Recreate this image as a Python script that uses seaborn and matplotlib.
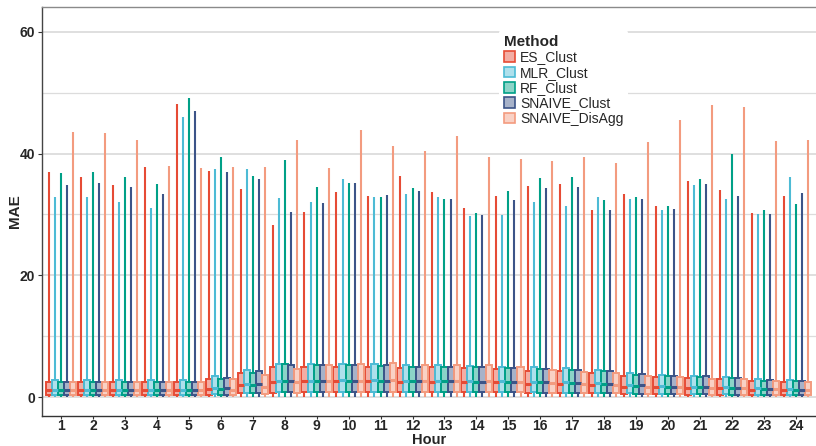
import numpy as np
import pandas as pd
import seaborn as sns
import matplotlib
matplotlib.use("Agg")
import matplotlib.pyplot as plt
from matplotlib.patches import Patch
from matplotlib.colors import to_rgba

hours = [str(h) for h in range(1, 25)]
methods = ["ES_Clust", "MLR_Clust", "RF_Clust", "SNAIVE_Clust", "SNAIVE_DisAgg"]
colors = ["#E64B35", "#4DBBD5", "#00A087", "#3C5488", "#F39B7F"]

# upper whisker (max) per hour
es_max = [36.9, 36.1, 34.8, 37.8, 48.1, 37.1, 34.2, 28.3, 30.4, 33.7, 33.1, 36.3,
          33.7, 31.1, 33.1, 34.7, 35.0, 30.8, 33.4, 31.4, 35.5, 34.0, 30.3, 33.0]
mlr_max = [32.8, 32.8, 32.0, 31.0, 46.0, 37.5, 37.4, 32.7, 32.0, 35.9, 32.8, 33.3,
           32.8, 29.7, 29.9, 32.0, 31.4, 32.9, 32.6, 30.8, 34.9, 32.5, 30.0, 36.1]
rf_max = [36.8, 36.9, 36.2, 35.0, 49.1, 39.5, 36.3, 39.0, 34.5, 35.1, 32.9, 34.3,
          32.5, 30.2, 33.9, 36.0, 36.1, 32.4, 32.8, 31.4, 35.8, 40.0, 30.7, 31.8]
sn_max = [34.9, 35.1, 34.5, 33.4, 47.0, 37.0, 35.8, 30.4, 31.9, 35.1, 33.2, 33.8,
          32.6, 29.9, 32.3, 34.3, 34.5, 30.7, 32.5, 30.9, 35.0, 33.1, 30.1, 33.5]
da_max = [43.5, 43.4, 42.3, 38.0, 37.7, 37.8, 37.8, 42.3, 37.7, 43.9, 41.3, 40.4,
          42.9, 39.5, 39.1, 38.8, 39.4, 38.5, 41.9, 45.6, 48.0, 47.7, 42.1, 42.2]

# third quartile
es_q3 = [2.4, 2.4, 2.4, 2.4, 2.4, 3.0, 4.0, 4.9, 5.0, 4.9, 5.0, 4.8,
         4.9, 4.7, 4.6, 4.3, 4.2, 3.9, 3.5, 3.3, 3.1, 2.9, 2.6, 2.5]
mlr_q3 = [2.8, 2.8, 2.8, 2.8, 2.8, 3.5, 4.4, 5.4, 5.4, 5.5, 5.5, 5.2,
          5.2, 5.1, 5.0, 4.9, 4.7, 4.5, 4.0, 3.6, 3.5, 3.3, 3.0, 2.8]
rf_q3 = [2.5, 2.5, 2.5, 2.5, 2.5, 3.0, 4.0, 5.4, 5.3, 5.2, 5.1, 5.0,
         5.0, 4.9, 4.8, 4.6, 4.4, 4.2, 3.7, 3.4, 3.3, 3.1, 2.7, 2.6]
sn_q3 = [2.5, 2.5, 2.5, 2.5, 2.5, 3.2, 4.2, 5.2, 5.2, 5.2, 5.2, 5.0,
         5.0, 4.9, 4.8, 4.6, 4.5, 4.2, 3.8, 3.5, 3.4, 3.2, 2.8, 2.7]
da_q3 = [2.5, 2.5, 2.5, 2.5, 2.5, 2.9, 3.6, 4.6, 5.3, 5.4, 5.6, 5.3,
         5.2, 5.2, 5.0, 4.5, 4.1, 3.9, 3.5, 3.3, 3.0, 2.9, 2.7, 2.5]

# median
es_med = [1.1, 1.1, 1.1, 1.1, 1.1, 1.3, 2.0, 2.5, 2.6, 2.6, 2.6, 2.5,
          2.5, 2.4, 2.4, 2.2, 2.1, 1.9, 1.7, 1.6, 1.5, 1.4, 1.2, 1.2]
mlr_med = [1.2, 1.2, 1.2, 1.2, 1.2, 1.5, 2.1, 2.7, 2.7, 2.8, 2.8, 2.7,
           2.7, 2.6, 2.6, 2.5, 2.4, 2.3, 2.0, 1.8, 1.7, 1.6, 1.4, 1.3]
rf_med = [1.1, 1.1, 1.1, 1.1, 1.1, 1.3, 2.0, 2.7, 2.7, 2.7, 2.6, 2.6,
          2.6, 2.5, 2.5, 2.4, 2.3, 2.1, 1.8, 1.7, 1.6, 1.5, 1.3, 1.2]
sn_med = [1.1, 1.1, 1.1, 1.1, 1.1, 1.4, 2.1, 2.7, 2.7, 2.7, 2.7, 2.6,
          2.6, 2.5, 2.5, 2.4, 2.3, 2.1, 1.9, 1.7, 1.6, 1.5, 1.3, 1.2]
da_med = [1.1, 1.1, 1.1, 1.1, 1.1, 1.2, 1.7, 2.4, 2.7, 2.7, 2.8, 2.7,
          2.6, 2.6, 2.5, 2.3, 2.1, 1.9, 1.7, 1.6, 1.5, 1.4, 1.3, 1.1]

# first quartile
es_q1 = [0.3, 0.3, 0.3, 0.3, 0.3, 0.4, 0.6, 0.7, 0.8, 0.8, 0.8, 0.8,
         0.8, 0.8, 0.8, 0.7, 0.7, 0.6, 0.5, 0.5, 0.4, 0.4, 0.4, 0.3]
mlr_q1 = [0.4, 0.4, 0.4, 0.4, 0.4, 0.5, 0.6, 0.8, 0.8, 0.9, 0.9, 0.8,
          0.8, 0.8, 0.8, 0.8, 0.7, 0.7, 0.6, 0.5, 0.5, 0.5, 0.4, 0.4]
rf_q1 = [0.3, 0.3, 0.3, 0.3, 0.3, 0.4, 0.6, 0.8, 0.8, 0.8, 0.8, 0.8,
         0.8, 0.8, 0.8, 0.7, 0.7, 0.6, 0.5, 0.5, 0.5, 0.4, 0.4, 0.3]
sn_q1 = [0.3, 0.3, 0.3, 0.3, 0.3, 0.4, 0.6, 0.8, 0.8, 0.8, 0.8, 0.8,
         0.8, 0.8, 0.8, 0.7, 0.7, 0.6, 0.5, 0.5, 0.5, 0.4, 0.4, 0.3]
da_q1 = [0.3, 0.3, 0.3, 0.3, 0.3, 0.4, 0.5, 0.7, 0.8, 0.8, 0.9, 0.8,
         0.8, 0.8, 0.8, 0.7, 0.6, 0.6, 0.5, 0.5, 0.4, 0.4, 0.4, 0.3]

whisker_low = 0.0

series = {
    "ES_Clust": (es_max, es_q3, es_med, es_q1),
    "MLR_Clust": (mlr_max, mlr_q3, mlr_med, mlr_q1),
    "RF_Clust": (rf_max, rf_q3, rf_med, rf_q1),
    "SNAIVE_Clust": (sn_max, sn_q3, sn_med, sn_q1),
    "SNAIVE_DisAgg": (da_max, da_q3, da_med, da_q1),
}

rows = []
for m in methods:
    mx, q3, md, q1 = series[m]
    for h, a, b, c, d in zip(hours, mx, q3, md, q1):
        for v in (whisker_low, d, c, b, a):
            rows.append((h, m, v))
df = pd.DataFrame(rows, columns=["Hour", "Method", "MAE"])

sns.set_theme(style="white")
plt.rcParams["font.family"] = ["Liberation Sans", "DejaVu Sans"]

W, H = 816, 446
ax_left, ax_top, ax_bottom = 42, 7, 416
fig = plt.figure(figsize=(W / 100, H / 100), dpi=100)
fig.patch.set_facecolor("white")
ax = fig.add_axes([ax_left / W, (H - ax_bottom) / H, 1 - ax_left / W,
                   (ax_bottom - ax_top) / H])

pal = dict(zip(methods, colors))
for m, c in zip(methods, colors):
    sub = df[df["Method"] == m]
    n0 = len(ax.patches)
    sns.boxplot(data=sub, x="Hour", y="MAE", hue="Method", order=hours,
                hue_order=methods, palette=pal, linecolor=c, width=0.95,
                gap=0, dodge=True, whis=(0, 100), showcaps=False,
                linewidth=1.4, fliersize=0, legend=False,
                whiskerprops=dict(linewidth=1.5, color=c),
                medianprops=dict(linewidth=2.2, color=c), ax=ax)
    for p in ax.patches[n0:]:
        p.set_facecolor(to_rgba(c, 0.45))
        p.set_edgecolor(c)

ax.set_xlim(-0.594, 23.626)
ax.set_ylim(-3.12, 64.1)
ax.set_yticks([0, 20, 40, 60])
ax.set_yticks([10, 30, 50], minor=True)
ax.grid(axis="y", which="major", color="#d6d6d6", linewidth=1.1)
ax.grid(axis="y", which="minor", color="#dcdcdc", linewidth=0.9)
ax.grid(axis="x", visible=False)
ax.set_axisbelow(True)
ax.set_facecolor("white")

ax.spines["right"].set_visible(False)
ax.spines["top"].set_color("#8a8a8a")
ax.spines["top"].set_linewidth(1.0)
ax.spines["left"].set_color("#444444")
ax.spines["left"].set_linewidth(1.0)
ax.spines["bottom"].set_color("#333333")
ax.spines["bottom"].set_linewidth(1.0)

ax.tick_params(axis="y", which="major", left=True, length=3, width=0.8,
               color="#333333", labelsize=10, pad=2)
ax.tick_params(axis="y", which="minor", left=False)
ax.tick_params(axis="x", bottom=True, length=2, width=0.8, color="#333333",
               labelsize=10, pad=0.5)
for lab in ax.get_xticklabels() + ax.get_yticklabels():
    lab.set_fontweight("bold")

ax.set_xlabel("Hour", fontsize=10.5, fontweight="bold")
ax.set_ylabel("MAE", fontsize=11, fontweight="bold")
ax.xaxis.set_label_coords(0.5, -(432.5 - ax_bottom) / (ax_bottom - ax_top))
ax.yaxis.set_label_coords(-(ax_left - 15) / (W - ax_left), 0.5)
ax.yaxis.label.set_va("center")

handles = [Patch(facecolor=to_rgba(c, 0.45), edgecolor=c, linewidth=1.2, label=m)
           for m, c in zip(methods, colors)]
leg = ax.legend(handles=handles, title="Method", loc="upper left",
                bbox_to_anchor=(499 / W, 1 - 30 / H),
                bbox_transform=fig.transFigure, frameon=True, framealpha=1,
                facecolor="white", edgecolor="none", fontsize=10,
                title_fontproperties={"weight": "bold", "size": 11},
                handlelength=0.8, handleheight=0.8, handletextpad=0.35,
                labelspacing=0.1, borderpad=0.35, borderaxespad=0)
leg._legend_box.align = "left"

fig.savefig("out.png", dpi=100)
